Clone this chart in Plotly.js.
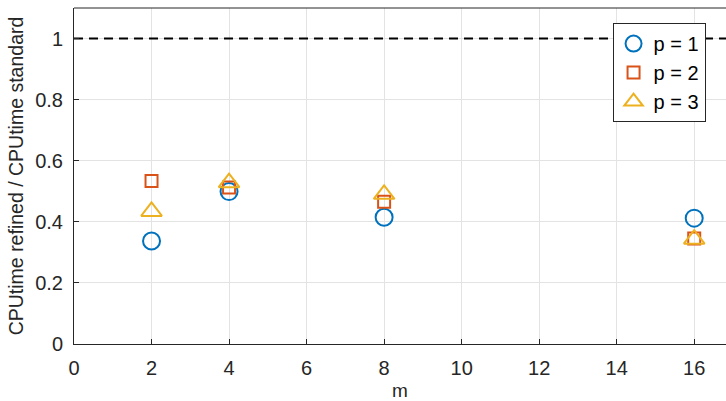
<!DOCTYPE html>
<html><head><meta charset="utf-8">
<script src="https://cdn.plot.ly/plotly-3.0.1.min.js"></script>
<style>body{margin:0}#c{width:726px;height:401px}</style>
</head><body><div id="c"></div>
<script>
const m = [2, 4, 8, 16];
const p1 = [0.337, 0.499, 0.415, 0.412];
const p2 = [0.534, 0.512, 0.466, 0.345];
const p3 = [0.434, 0.528, 0.490, 0.343];
const refLine = [1, 1];
const refX = [0, 17];
const names = ['p = 1', 'p = 2', 'p = 3'];
const yTicks = [0, 0.2, 0.4, 0.6, 0.8, 1];
const yTickText = ['0', '0.2', '0.4', '0.6', '0.8', '1'];
const xTicks = [0, 2, 4, 6, 8, 10, 12, 14, 16];

const traces = [
  {x: refX, y: refLine, mode: 'lines', line: {color: '#000', width: 2, dash: '9px,6px'}, showlegend: false, hoverinfo: 'skip'},
  {x: m, y: p1, mode: 'markers', name: names[0], marker: {symbol: 'circle-open', size: 17, color: '#0072BD', line: {width: 2, color: '#0072BD'}}},
  {x: m, y: p2, mode: 'markers', name: names[1], marker: {symbol: 'square-open', size: 12, color: '#D95319', line: {width: 2, color: '#D95319'}}},
  {x: m, y: p3, mode: 'markers', name: names[2], marker: {symbol: 'triangle-up-open', size: 18, color: '#EDB120', line: {width: 2, color: '#EDB120'}}}
];

const layout = {
  width: 726, height: 401,
  margin: {l: 74, r: 0, t: 8, b: 57},
  paper_bgcolor: '#fff', plot_bgcolor: '#fff',
  font: {family: 'Liberation Sans, Arial, sans-serif', color: '#262626'},
  xaxis: {
    range: [0, 16.82], tickvals: xTicks,
    showgrid: true, gridcolor: '#e3e3e3', zeroline: false,
    showline: true, linecolor: '#262626', linewidth: 1,
    ticks: 'inside', ticklen: 5, tickcolor: '#262626',
    ticklabelstandoff: 6,
    tickfont: {size: 20, color: '#262626'},
    title: {text: 'm', font: {size: 19, color: '#262626'}, standoff: 9}
  },
  yaxis: {
    range: [0, 1.1], tickvals: yTicks, ticktext: yTickText,
    showgrid: true, gridcolor: '#e3e3e3', zeroline: false,
    showline: true, linecolor: '#262626', linewidth: 1,
    ticks: 'inside', ticklen: 5, tickcolor: '#262626',
    ticklabelstandoff: 6,
    tickfont: {size: 20, color: '#262626'},
    title: {text: 'CPUtime refined / CPUtime standard', font: {size: 19.5, color: '#262626'}, standoff: 6}
  },
  shapes: [{type: 'line', xref: 'paper', yref: 'paper', x0: 0, x1: 1, y0: 1, y1: 1, line: {color: '#262626', width: 1}}],
  legend: {
    x: 0.826, y: 0.955, xanchor: 'left', yanchor: 'top',
    bgcolor: '#fff', bordercolor: '#262626', borderwidth: 1,
    font: {size: 20, color: '#000'}, tracegroupgap: 0
  },
  showlegend: true
};
Plotly.newPlot('c', traces, layout, {staticPlot: true});
</script></body></html>
